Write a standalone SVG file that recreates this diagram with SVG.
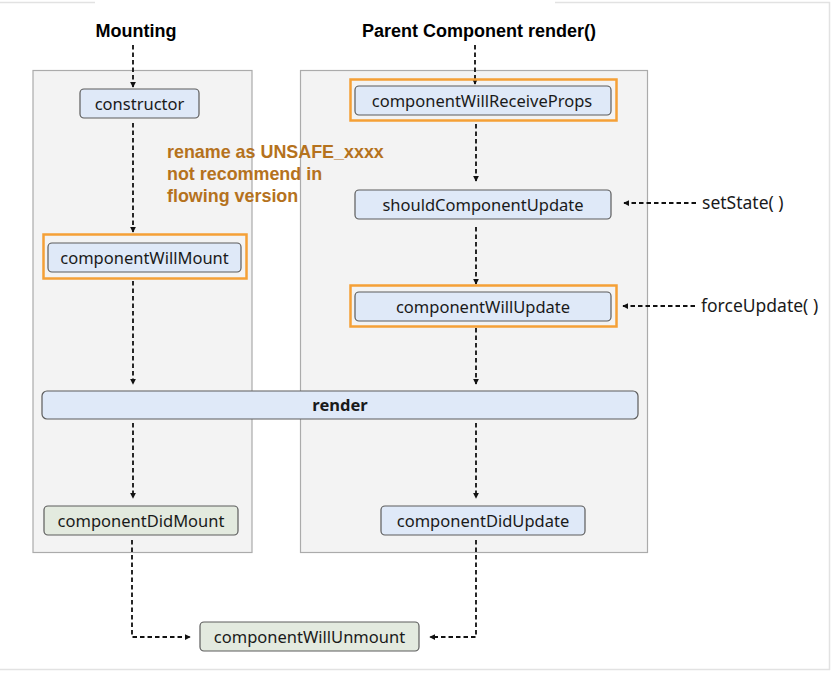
<svg xmlns="http://www.w3.org/2000/svg" width="832" height="676" viewBox="0 0 832 676">
  <defs>
    <marker id="arrow" viewBox="0 0 8 8" refX="7" refY="4" markerWidth="6" markerHeight="6" markerUnits="userSpaceOnUse" orient="auto">
      <path d="M0,0 L8,4 L0,8 Z" fill="#111"/>
    </marker>
    <style>
      .frame { fill: none; stroke: #e2e2e2; stroke-width: 1.5; }
      .panel { fill: #f3f3f3; stroke: #ababab; stroke-width: 1.2; }
      .node { fill: #dfe9f8; stroke: #5c5c5c; stroke-width: 1.2; }
      .node-green { fill: #e3eadf; stroke: #5c5c5c; stroke-width: 1.2; }
      .hl { fill: none; stroke: #f5a036; stroke-width: 2.5; }
      .label { font-family: "Noto Sans", "Open Sans", sans-serif; font-size: 16.5px; fill: #1a1a1a; text-anchor: middle; }
      .side { font-family: "Noto Sans", "Open Sans", sans-serif; font-size: 17.5px; fill: #1a1a1a; }
      .title { font-family: "Liberation Sans", Arial, sans-serif; font-weight: bold; font-size: 18px; fill: #000; text-anchor: middle; }
      .bold { font-family: "Noto Sans", "Open Sans", sans-serif; font-weight: bold; font-size: 16.5px; fill: #1a1a1a; text-anchor: middle; }
      .note { font-family: "Liberation Sans", Arial, sans-serif; font-weight: bold; font-size: 17.9px; fill: #b5721d; }
      .flow { fill: none; stroke: #111; stroke-width: 1.8; stroke-dasharray: 4.5 3; marker-end: url(#arrow); }
    </style>
  </defs>

  <rect width="832" height="676" fill="#ffffff"/>

  <!-- faint outer frame -->
  <path class="frame" d="M0,2.5 H95 M555,2.5 H829.5 V669.5 H0"/>

  <!-- column panels -->
  <rect class="panel" x="33" y="70.5" width="219" height="482"/>
  <rect class="panel" x="300.5" y="70.5" width="347" height="482"/>

  <!-- titles -->
  <text class="title" x="136" y="37">Mounting</text>
  <text class="title" x="479" y="37">Parent Component render()</text>

  <!-- annotation -->
  <text class="note" x="167" y="158">rename as UNSAFE_xxxx</text>
  <text class="note" x="167" y="180">not recommend in</text>
  <text class="note" x="167" y="202">flowing version</text>

  <!-- connectors -->
  <g id="connectors">
    <path class="flow" d="M133,45 V87"/>
    <path class="flow" d="M133,123 V232"/>
    <path class="flow" d="M133,281 V384"/>
    <path class="flow" d="M133,423 V498"/>
    <path class="flow" d="M132,540 V637 H190"/>

    <path class="flow" d="M475,45 V84"/>
    <path class="flow" d="M476,124 V181"/>
    <path class="flow" d="M476,227 V284"/>
    <path class="flow" d="M476,328 V384"/>
    <path class="flow" d="M476,423 V498"/>
    <path class="flow" d="M476,540 V637 H430"/>

    <path class="flow" d="M696,203 H624"/>
    <path class="flow" d="M695,306 H623"/>
  </g>

  <!-- nodes: mounting column -->
  <g id="constructor">
    <rect class="node" x="80" y="89" width="119" height="29" rx="4"/>
    <text class="label" x="139.5" y="109.5">constructor</text>
  </g>
  <g id="componentWillMount">
    <rect class="hl" x="43.5" y="234.5" width="203" height="44"/>
    <rect class="node" x="48" y="243" width="193" height="29" rx="4"/>
    <text class="label" x="144.5" y="263.5">componentWillMount</text>
  </g>
  <g id="componentDidMount">
    <rect class="node-green" x="44" y="506" width="194" height="29" rx="4"/>
    <text class="label" x="141" y="526.5">componentDidMount</text>
  </g>

  <!-- nodes: update column -->
  <g id="componentWillReceiveProps">
    <rect class="hl" x="350.5" y="79.5" width="266" height="41"/>
    <rect class="node" x="355" y="86" width="256" height="29" rx="4"/>
    <text class="label" x="482" y="106.5">componentWillReceiveProps</text>
  </g>
  <g id="shouldComponentUpdate">
    <rect class="node" x="355" y="190" width="256" height="29" rx="4"/>
    <text class="label" x="483" y="210.5">shouldComponentUpdate</text>
  </g>
  <g id="componentWillUpdate">
    <rect class="hl" x="350.5" y="285.5" width="266" height="41"/>
    <rect class="node" x="355" y="292" width="256" height="29" rx="4"/>
    <text class="label" x="483" y="312.5">componentWillUpdate</text>
  </g>
  <g id="componentDidUpdate">
    <rect class="node" x="381" y="506" width="204" height="29" rx="4"/>
    <text class="label" x="483" y="526.5">componentDidUpdate</text>
  </g>

  <!-- shared render step -->
  <g id="render">
    <rect class="node" x="42" y="391" width="596" height="28" rx="5"/>
    <text class="bold" x="340" y="411">render</text>
  </g>

  <g id="componentWillUnmount">
    <rect class="node-green" x="200" y="622" width="219" height="29" rx="4"/>
    <text class="label" x="309.5" y="642.5">componentWillUnmount</text>
  </g>

  <!-- external triggers -->
  <g id="setState">
    <text class="side" x="702" y="209">setState( )</text>
  </g>
  <g id="forceUpdate">
    <text class="side" x="701" y="312">forceUpdate( )</text>
  </g>
</svg>
